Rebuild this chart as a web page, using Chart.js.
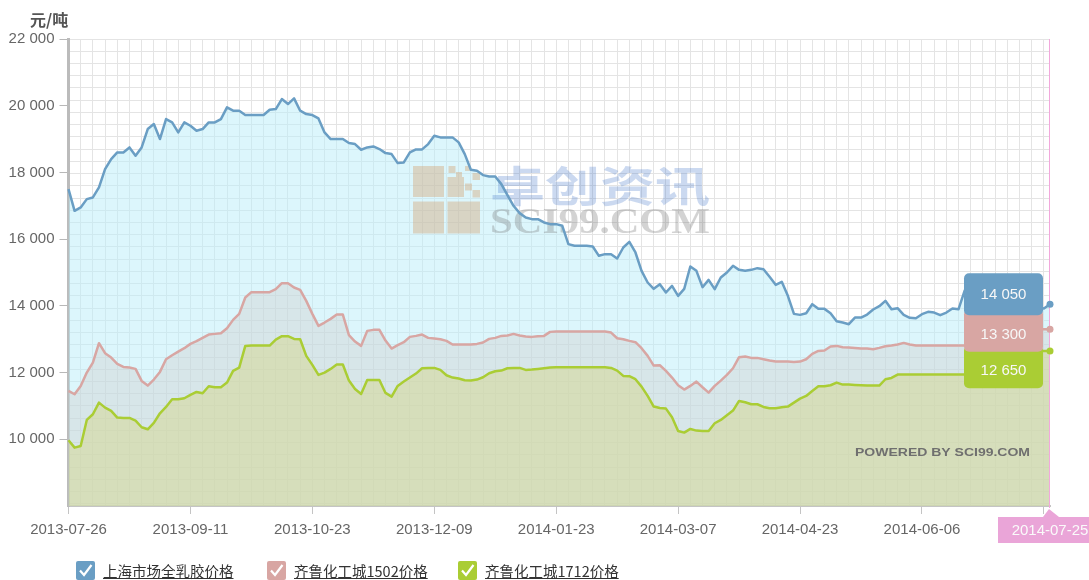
<!DOCTYPE html>
<html>
<head>
<meta charset="utf-8">
<title>天然橡胶价格走势</title>
<script src="https://cdn.jsdelivr.net/npm/chart.js@4.4.1/dist/chart.umd.min.js"></script>
<style>
  html, body { margin: 0; padding: 0; background: #fff; }
  #wrap { position: relative; width: 1089px; height: 580px; overflow: hidden; }
  #chart { position: absolute; left: 0; top: 0; }
  .unit { position: absolute; left: 30px; top: 7px; font: bold 16px "Noto Sans CJK SC", sans-serif; color: #555; }
  .legend-item { position: absolute; top: 561px; display: flex; align-items: center; white-space: nowrap; }
  .check { width: 19px; height: 19px; border-radius: 2px; margin-right: 8px; display: flex; align-items: center; justify-content: center; }
  .legend-text { font: 14.5px "Noto Sans CJK SC", sans-serif; color: #333; text-decoration: underline; line-height: 19px; }
</style>
</head>
<body>
<div id="wrap">
  <canvas id="chart" width="1089" height="580"></canvas>
  <div class="unit">元/吨</div>
  <div id="legend"></div>
</div>
<script>
// x axis: one point per trading day, a labelled tick every 20 points
const xTickLabels = ["2013-07-26", "2013-09-11", "2013-10-23", "2013-12-09", "2014-01-23", "2014-03-07", "2014-04-23", "2014-06-06", ""];
const lastDate = "2014-07-25";

const seriesNames = ["上海市场全乳胶价格", "齐鲁化工城1502价格", "齐鲁化工城1712价格"];
const seriesColors = ["#6a9ec4", "#d8a6a3", "#aacd34"];

// 元/吨
const shanghaiPrice = [
  17500, 16850, 16950, 17200, 17250, 17550, 18100, 18400, 18600, 18600,
  18750, 18500, 18750, 19300, 19450, 19000, 19600, 19500, 19200, 19500,
  19400, 19250, 19300, 19500, 19500, 19600, 19950, 19850, 19850, 19720,
  19720, 19720, 19720, 19880, 19900, 20200, 20050, 20220, 19850, 19750,
  19720, 19620, 19200, 19000, 19000, 19000,
  18880, 18850, 18680, 18750, 18780, 18700, 18580, 18550, 18280, 18300,
  18600, 18690, 18690, 18850, 19100, 19050, 19050, 19050, 18900, 18550,
  18080, 18050, 17920, 17880, 17880, 17650, 17320, 17000, 16780, 16650,
  16600, 16600, 16500, 16450, 16450, 16400, 15850, 15800, 15800, 15800,
  15780, 15500, 15550, 15550, 15420, 15750, 15920, 15600, 15050, 14700,
  14510, 14650, 14400, 14600, 14300, 14510, 15180, 15050, 14560, 14780,
  14500, 14850, 15000, 15200, 15080, 15050, 15080, 15130, 15100, 14870,
  14630, 14720, 14300, 13760, 13730, 13780, 14050, 13910, 13910, 13780,
  13540, 13500, 13450, 13650, 13650, 13740, 13890, 13990, 14150, 13900,
  13930, 13730, 13640, 13630, 13750, 13820, 13800, 13720, 13800, 13920,
  13900, 14460, 14400, 14350, 14300, 14250, 14200, 14150, 14100, 14050,
  14000, 14000, 13950, 13950, 13920, 14050
];
const qilu1502Price = [
  11450, 11350, 11600, 12000, 12300, 12880, 12580, 12450, 12260, 12170,
  12150, 12110, 11750, 11610, 11790, 12020, 12400, 12520, 12630, 12730,
  12860, 12940, 13040, 13140, 13160, 13180, 13330, 13580, 13760, 14250,
  14410, 14410, 14410, 14410, 14500, 14680, 14680, 14550, 14480, 14150,
  13760, 13400, 13500, 13610, 13740, 13740,
  13120, 12930, 12800, 13250, 13280, 13280, 12960, 12720, 12820, 12910,
  13070, 13100, 13140, 13040, 13020, 13000, 12950, 12840, 12840, 12840,
  12840, 12860, 12900, 13010, 13040, 13100, 13110, 13160, 13110, 13080,
  13070, 13090, 13100, 13220, 13230, 13230, 13230, 13230, 13230, 13230,
  13230, 13230, 13230, 13200, 13030, 13000, 12950, 12910, 12730, 12500,
  12210, 12220, 12050, 11850, 11620, 11490, 11600, 11730, 11560, 11400,
  11600, 11760, 11930, 12130, 12460, 12480, 12440, 12440, 12400, 12360,
  12330, 12330, 12330, 12320, 12330, 12400, 12560, 12650, 12660, 12780,
  12800, 12760, 12750, 12740, 12720, 12720, 12700, 12740, 12790, 12810,
  12840, 12890, 12840, 12810, 12810, 12810, 12810, 12810, 12810, 12810,
  12810, 12810, 12810, 12810, 12810, 13050, 13300, 13300, 13300, 13300,
  13300, 13300, 13300, 13300, 13300, 13300
];
const qilu1712Price = [
  9970, 9750, 9800, 10580, 10750, 11100, 10950, 10850, 10650, 10640,
  10640, 10560, 10360, 10300, 10490, 10780, 10970, 11200, 11200, 11230,
  11330, 11420, 11380, 11590, 11560, 11560, 11700, 12050, 12150, 12800,
  12810, 12810, 12810, 12810, 12990, 13090, 13090, 13010, 13000, 12500,
  12230, 11930, 12000, 12110, 12240, 12240,
  11760, 11510, 11360, 11780, 11780, 11780, 11390, 11280, 11600, 11730,
  11850, 11970, 12130, 12140, 12140, 12080, 11920, 11850, 11820, 11770,
  11760, 11790, 11860, 11980, 12040, 12060, 12130, 12140, 12140, 12080,
  12090, 12110, 12130, 12150, 12160, 12160, 12160, 12160, 12160, 12160,
  12160, 12160, 12160, 12140, 12060, 11900, 11890, 11800, 11580, 11300,
  10980, 10940, 10920, 10660, 10250, 10200, 10310, 10260, 10250, 10250,
  10480, 10580, 10720, 10860, 11150, 11110, 11050, 11050, 10970, 10930,
  10930, 10960, 10980, 11100, 11220, 11300, 11450, 11590, 11590, 11620,
  11700, 11640, 11640, 11630, 11620, 11610, 11610, 11610, 11800, 11840,
  11940, 11940, 11940, 11940, 11940, 11940, 11940, 11940, 11940, 11940,
  11940, 11940, 11950, 11950, 11950, 12300, 12650, 12650, 12650, 12650,
  12650, 12650, 12650, 12650, 12650, 12650
];

const Y_MIN = 8000, Y_MAX = 22000, Y_LABEL_STEP = 2000;
const GRID_STEP_Y = 11000 / 30;   // background grid is a fixed ~12px pattern
const GRID_STEP_X = 2, TICK_EVERY = 20;
const lastIndex = shanghaiPrice.length - 1;

const seriesData = [shanghaiPrice, qilu1502Price, qilu1712Price];
const fillColors = ["rgba(185,237,249,0.5)", "rgba(206,200,198,0.35)", "rgba(213,216,141,0.5)"];

const fmt = v => Math.round(v).toString().replace(/\B(?=(\d{3})+(?!\d))/g, " ");

// html legend
const legend = document.getElementById("legend");
[76, 267, 458].forEach((left, i) => {
  const item = document.createElement("div");
  item.className = "legend-item";
  item.style.left = left + "px";
  item.innerHTML =
    '<span class="check" style="background:' + seriesColors[i] + '">' +
    '<svg width="15" height="15" viewBox="0 0 15 15"><polyline points="2,7.5 6,12 13.5,2" fill="none" stroke="#fff" stroke-width="2.2"/></svg>' +
    '</span><span class="legend-text">' + seriesNames[i] + "</span>";
  legend.appendChild(item);
});

// watermark, crosshair and the stacked value boxes at the last point
const overlay = {
  id: "overlay",
  beforeDatasetsDraw(chart) {
    const { ctx, chartArea } = chart;
    const x = chart.scales.x.getPixelForValue(lastIndex);
    ctx.save();
    // crosshair
    ctx.strokeStyle = "#f2a8dc";
    ctx.lineWidth = 1;
    ctx.beginPath();
    ctx.moveTo(x - 0.5, chartArea.top);
    ctx.lineTo(x - 0.5, chartArea.bottom + 2);
    ctx.stroke();

    // logo
    ctx.fillStyle = "rgba(210,164,118,0.42)";
    [[413, 166, 31, 31], [413, 201.5, 31, 32], [447.5, 201.5, 32.5, 32],
     [447.5, 177, 16.5, 20], [448.5, 166, 7, 7], [456, 172, 6, 5], [465, 166, 6, 5],
     [472.5, 173, 7.5, 7], [465, 183.5, 7, 7], [472.5, 190, 7.5, 7.5]].forEach(r => ctx.fillRect(...r));

    ctx.textBaseline = "alphabetic";
    ctx.textAlign = "left";
    ctx.fillStyle = "rgba(70,120,200,0.28)";
    ctx.font = 'bold 42px "Noto Sans CJK SC"';
    let w = ctx.measureText("卓创资讯").width;
    ctx.save();
    ctx.translate(490, 202);
    ctx.scale(220 / w, 1);
    ctx.fillText("卓创资讯", 0, 0);
    ctx.restore();

    ctx.fillStyle = "rgba(110,110,110,0.3)";
    ctx.font = 'bold 36px "Liberation Serif", "DejaVu Serif", serif';
    w = ctx.measureText("SCI99.COM").width;
    ctx.save();
    ctx.translate(490, 233);
    ctx.scale(220 / w, 1);
    ctx.fillText("SCI99.COM", 0, 0);
    ctx.restore();

    ctx.fillStyle = "#6f6f6f";
    ctx.font = 'bold 11px "Liberation Sans", Arial, sans-serif';
    w = ctx.measureText("POWERED BY SCI99.COM").width;
    ctx.save();
    ctx.translate(855, 456);
    ctx.scale(175 / w, 1);
    ctx.fillText("POWERED BY SCI99.COM", 0, 0);
    ctx.restore();
    ctx.restore();
  },
  afterDatasetsDraw(chart) {
    const { ctx } = chart;
    const x = chart.scales.x.getPixelForValue(lastIndex);
    const yTop = chart.scales.y.getPixelForValue(shanghaiPrice[lastIndex]);
    const left = x - 86, width = 79;
    const tops = [yTop - 31, yTop + 11, yTop + 47.5];
    const heights = [42, 36.5, 36.5];
    ctx.save();
    for (let i = 2; i >= 0; i--) {
      ctx.fillStyle = seriesColors[i];
      ctx.beginPath();
      const ext = i === 0 ? 0 : 6;
      ctx.roundRect(left, tops[i] - ext, width, heights[i] + ext, 5);
      ctx.fill();
    }
    ctx.fillStyle = "#f7f7f7";
    ctx.font = '15px "Liberation Sans", Arial, sans-serif';
    ctx.textAlign = "center";
    ctx.textBaseline = "middle";
    seriesData.forEach((arr, i) => {
      ctx.fillText(fmt(arr[lastIndex]), left + width / 2, tops[i] + heights[i] / 2 + 1);
    });

    // date label under the crosshair
    const by = chart.chartArea.bottom + 11;
    ctx.fillStyle = "#eaa5d8";
    ctx.beginPath();
    ctx.moveTo(x - 7, by);
    ctx.lineTo(x - 1, by - 8);
    ctx.lineTo(x + 9, by);
    ctx.closePath();
    ctx.fill();
    ctx.fillRect(x - 52, by, 104, 26);
    ctx.fillStyle = "#fafafa";
    ctx.fillText(lastDate, x, by + 14);
    ctx.restore();
  }
};

new Chart(document.getElementById("chart"), {
  type: "line",
  data: {
    datasets: seriesData.map((arr, i) => ({
      label: seriesNames[i],
      data: arr.map((v, k) => ({ x: k, y: v })),
      borderColor: seriesColors[i],
      backgroundColor: fillColors[i],
      borderWidth: 2.5,
      borderJoinStyle: "round",
      fill: "start",
      tension: 0,
      order: 3 - i,
      clip: 8,
      pointRadius: ctx => (ctx.dataIndex === lastIndex ? 3.5 : 0),
      pointBackgroundColor: seriesColors[i],
      pointBorderWidth: 0,
      pointHoverRadius: 0
    }))
  },
  options: {
    responsive: false,
    animation: false,
    events: [],
    layout: { padding: { top: 39, right: 39, left: 0, bottom: 0 } },
    plugins: {
      legend: { display: false },
      tooltip: { enabled: false },
      filler: { drawTime: "beforeDatasetsDraw" }
    },
    scales: {
      x: {
        type: "linear",
        min: 0,
        max: lastIndex,
        afterFit: s => { s.height = 74; },
        afterBuildTicks: scale => {
          const ticks = [];
          for (let i = 0; i <= lastIndex; i += GRID_STEP_X) ticks.push({ value: i, major: i % TICK_EVERY === 0 });
          scale.ticks = ticks;
        },
        grid: {
          color: "#e4e4e4",
          lineWidth: 1,
          tickLength: 8,
          tickColor: ctx => (ctx.tick && ctx.tick.major ? "#c4c4c4" : "rgba(0,0,0,0)")
        },
        border: { color: "#c4c4c4", width: 2 },
        ticks: {
          autoSkip: false,
          maxRotation: 0,
          padding: 7,
          color: "#666",
          font: { family: '"Liberation Sans", Arial, sans-serif', size: 15 },
          callback: (value, index, ticks) => (ticks[index].major ? (xTickLabels[value / TICK_EVERY] || "") : "")
        }
      },
      y: {
        min: Y_MIN,
        max: Y_MAX,
        afterFit: s => { s.width = 68.5; },
        afterBuildTicks: scale => {
          const ticks = [];
          for (let v = Y_MAX; v > Y_MIN + 1; v -= GRID_STEP_Y) ticks.push({ value: v, grid: true });
          for (let v = Y_MIN + Y_LABEL_STEP; v <= Y_MAX; v += Y_LABEL_STEP) {
            const t = ticks.find(t => Math.abs(t.value - v) < 1);
            if (t) t.label = true; else ticks.push({ value: v, label: true });
          }
          ticks.sort((a, b) => a.value - b.value);
          scale.ticks = ticks;
        },
        grid: {
          color: ctx => (ctx.tick && ctx.tick.grid ? "#e4e4e4" : "rgba(0,0,0,0)"),
          lineWidth: 1,
          tickLength: 9,
          tickColor: ctx => (ctx.tick && ctx.tick.label ? "#b8b8b8" : "rgba(0,0,0,0)")
        },
        border: { color: "#bbbbbb", width: 3 },
        ticks: {
          autoSkip: false,
          padding: 5,
          color: "#666",
          font: { family: '"Liberation Sans", Arial, sans-serif', size: 15 },
          callback: (value, index, ticks) => (ticks[index].label ? fmt(value) : "")
        }
      }
    }
  },
  plugins: [overlay]
});
</script>
</body>
</html>
